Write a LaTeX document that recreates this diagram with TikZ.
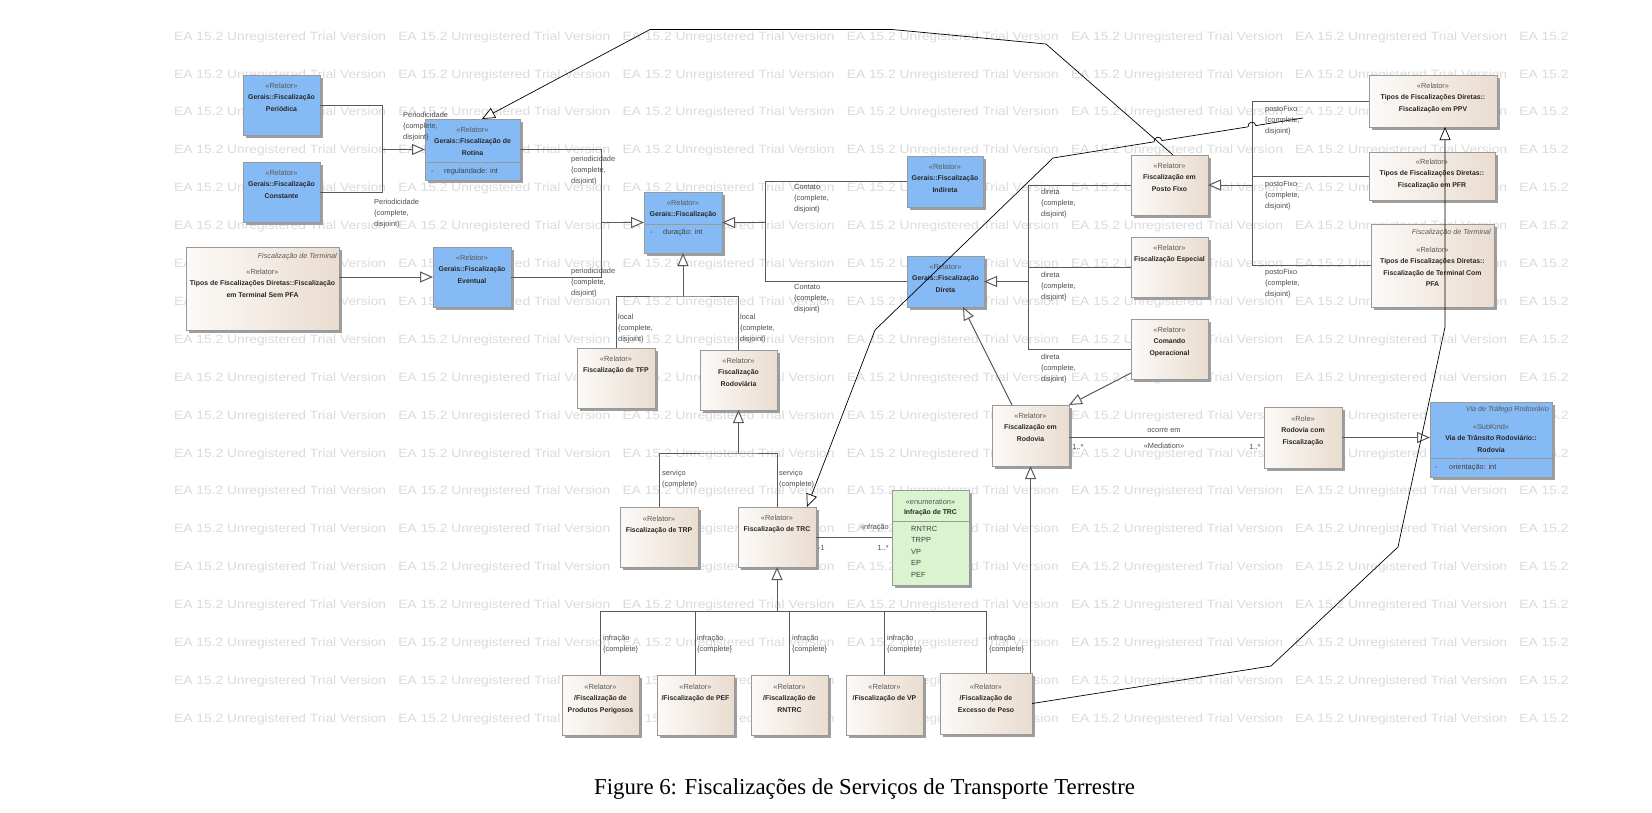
\documentclass[tikz,border=0pt]{standalone}
\usepackage{fontspec}
\setmainfont{Liberation Sans}
\newfontfamily\serifcap{Liberation Serif}
\newfontfamily\wmfont[FakeStretch=1.15]{Liberation Sans}
\usetikzlibrary{arrows.meta,calc,shadows}
\definecolor{rl}{HTML}{FCFAF8}
\definecolor{rr}{HTML}{EADCD0}
\definecolor{bl}{HTML}{85BAF5}
\definecolor{gr}{HTML}{D9F4CF}
\newcommand\stf{\fontsize{7.4}{11.3}\selectfont}
\newcommand\nmf{\fontsize{6.9}{11.3}\selectfont\bfseries}
\newcommand\nm[1]{{\nmf\color{black!85}#1}}
\newcommand\lbf{\fontsize{7.4}{11}\selectfont}
\newcommand\itf{\fontsize{7.2}{9}\selectfont\itshape}
\tikzset{
 base box/.style={draw=black!40, line width=.6pt, inner sep=0pt, outer sep=0pt, anchor=north west,
   drop shadow={shadow xshift=2.5pt, shadow yshift=-2.5pt, fill=black!38, opacity=1}},
 rbox/.style={base box, left color=rl, right color=rr},
 bbox/.style={base box, fill=bl},
 gbox/.style={base box, fill=gr},
 btxt/.style={anchor=north, align=center, inner sep=0pt, font=\stf, text=black!65},
 ittxt/.style={anchor=east, inner sep=0pt, font=\itf, text=black!65},
 attr/.style={anchor=west, inner sep=0pt, font=\stf, text=black!75},
 lbl/.style={anchor=north west, align=left, inner sep=0pt, font=\lbf, text=black!70},
 slbl/.style={inner sep=0pt, font=\lbf, text=black!70},
 cline/.style={draw=black!40, line width=.6pt},
 tree/.style={draw=black!65, line width=1pt},
 gen/.style={tree, -{Triangle[length=13pt,width=11pt,fill=white]}},
 lng/.style={draw=black, line width=.7pt},
 lgen/.style={lng, -{Triangle[length=13pt,width=11pt,fill=white]}},
 wm/.style={anchor=west, inner sep=0pt, text=black!14, font=\wmfont\fontsize{12}{12}\selectfont}
}
\newcommand\bx[6]{\node[#1, minimum width=#4pt, minimum height=#5pt] (#6) at (#2,#3) {};}
\begin{document}
\begin{tikzpicture}[x=1pt,y=-1pt]
\fill[white] (0,0) rectangle (1652,812);
\useasboundingbox (0,0) rectangle (1652,812);
% watermark
\begin{scope}
\clip (170,0) rectangle (1570,740);
\foreach \k in {0,...,18}{\foreach \j in {0,...,6}{
 \node[wm] (wm-\k-\j) at ({174+224.2*\j},{37+37.9*\k}) {EA 15.2 Unregistered Trial Version};
}}
\end{scope}
% boxes
\bx{bbox}{243}{75}{77}{60}{per}
\bx{bbox}{243}{162}{77}{60}{con}
\bx{bbox}{425}{119}{95}{61}{rot}
\bx{rbox}{186}{247}{153}{83}{tsp}
\bx{bbox}{433}{247}{78}{60}{eve}
\bx{bbox}{644}{192}{78}{61}{fis}
\bx{bbox}{907}{156}{76}{51}{ind}
\bx{bbox}{907}{256}{77}{51}{dir}
\bx{rbox}{577}{348}{78}{60}{tfp}
\bx{rbox}{700}{350}{77}{60}{rodv}
\bx{rbox}{1131}{155}{77}{60}{pfx}
\bx{rbox}{1131}{237}{77}{60}{esp}
\bx{rbox}{1131}{319}{77}{60}{cmd}
\bx{rbox}{1369}{75}{128}{52}{ppv}
\bx{rbox}{1369}{152}{126}{48}{pfr}
\bx{rbox}{1371}{224}{123}{83}{tcp}
\bx{rbox}{992}{405}{77}{61}{rdv}
\bx{rbox}{1264}{407}{78}{61}{rcf}
\bx{bbox}{1430}{402}{122}{75}{via}
\bx{rbox}{620}{507}{78}{60}{trp}
\bx{rbox}{738}{507}{78}{60}{trc}
\bx{gbox}{892}{490}{77}{95}{enu}
\bx{rbox}{562}{675}{77}{60}{pp}
\bx{rbox}{657}{675}{77}{60}{pef}
\bx{rbox}{751}{675}{77}{60}{rnt}
\bx{rbox}{846}{675}{77}{60}{vp}
\bx{rbox}{940}{673}{92}{61}{exc}
% compartments
\draw[cline] (rot.west |- 0,162) -- (rot.east |- 0,162);
\draw[cline] (fis.west |- 0,224) -- (fis.east |- 0,224);
\draw[cline] (via.west |- 0,458) -- (via.east |- 0,458);
\draw[cline] (enu.west |- 0,521) -- (enu.east |- 0,521);
% box texts
\node[btxt] (per-t) at ($(per.north)+(0,8)$) {«Relator»\\\nm{Gerais::Fiscalização}\\\nm{Periódica}};
\node[btxt] (con-t) at ($(con.north)+(0,8)$) {«Relator»\\\nm{Gerais::Fiscalização}\\\nm{Constante}};
\node[btxt] (rot-t) at ($(rot.north)+(0,8)$) {«Relator»\\\nm{Gerais::Fiscalização de}\\\nm{Rotina}};
\node[attr] (rot-a1) at (431,172) {-};
\node[attr] (rot-a2) at (444,172) {regularidade: int};
\node[ittxt] (tsp-i) at (337,257) {Fiscalização de Terminal};
\node[btxt] (tsp-t) at ($(tsp.north)+(0,22)$) {«Relator»\\\nm{Tipos de Fiscalizações Diretas::Fiscalização}\\\nm{em Terminal Sem PFA}};
\node[btxt] (eve-t) at ($(eve.north)+(0,8)$) {«Relator»\\\nm{Gerais::Fiscalização}\\\nm{Eventual}};
\node[btxt] (fis-t) at ($(fis.north)+(0,8)$) {«Relator»\\\nm{Gerais::Fiscalização}};
\node[attr] (fis-a1) at (650,233) {-};
\node[attr] (fis-a2) at (663,233) {duração: int};
\node[btxt] (ind-t) at ($(ind.north)+(0,8)$) {«Relator»\\\nm{Gerais::Fiscalização}\\\nm{Indireta}};
\node[btxt] (dir-t) at ($(dir.north)+(0,8)$) {«Relator»\\\nm{Gerais::Fiscalização}\\\nm{Direta}};
\node[btxt] (tfp-t) at ($(tfp.north)+(0,8)$) {«Relator»\\\nm{Fiscalização de TFP}};
\node[btxt] (rodv-t) at ($(rodv.north)+(0,8)$) {«Relator»\\\nm{Fiscalização}\\\nm{Rodoviária}};
\node[btxt] (pfx-t) at ($(pfx.north)+(0,8)$) {«Relator»\\\nm{Fiscalização em}\\\nm{Posto Fixo}};
\node[btxt] (esp-t) at ($(esp.north)+(0,8)$) {«Relator»\\\nm{Fiscalização Especial}};
\node[btxt] (cmd-t) at ($(cmd.north)+(0,8)$) {«Relator»\\\nm{Comando}\\\nm{Operacional}};
\node[btxt] (ppv-t) at ($(ppv.north)+(0,8)$) {«Relator»\\\nm{Tipos de Fiscalizações Diretas::}\\\nm{Fiscalização em PPV}};
\node[btxt] (pfr-t) at ($(pfr.north)+(0,7)$) {«Relator»\\\nm{Tipos de Fiscalizações Diretas::}\\\nm{Fiscalização em PFR}};
\node[ittxt] (tcp-i) at (1491,233) {Fiscalização de Terminal};
\node[btxt] (tcp-t) at ($(tcp.north)+(0,23)$) {«Relator»\\\nm{Tipos de Fiscalizações Diretas::}\\\nm{Fiscalização de Terminal Com}\\\nm{PFA}};
\node[btxt] (rdv-t) at ($(rdv.north)+(0,8)$) {«Relator»\\\nm{Fiscalização em}\\\nm{Rodovia}};
\node[btxt] (rcf-t) at ($(rcf.north)+(0,9)$) {«Role»\\\nm{Rodovia com}\\\nm{Fiscalização}};
\node[ittxt] (via-i) at (1549,410) {Via de Tráfego Rodoviário};
\node[btxt] (via-t) at ($(via.north)+(0,22)$) {«SubKind»\\\nm{Via de Trânsito Rodoviário::}\\\nm{Rodovia}};
\node[attr] (via-a1) at (1435,468) {-};
\node[attr] (via-a2) at (1449,468) {orientação: int};
\node[btxt] (trp-t) at ($(trp.north)+(0,9)$) {«Relator»\\\nm{Fiscalização de TRP}};
\node[btxt] (trc-t) at ($(trc.north)+(0,8)$) {«Relator»\\\nm{Fiscalização de TRC}};
\node[btxt, font=\fontsize{7.4}{10}\selectfont] (enu-t) at ($(enu.north)+(0,9)$) {«enumeration»\\\nm{Infração de TRC}};
\node[lbl, font=\fontsize{7.4}{11.5}\selectfont, text=black!75] (enu-l) at (911,526) {RNTRC\\TRPP\\VP\\EP\\PEF};
\node[btxt] (pp-t) at ($(pp.north)+(0,9)$) {«Relator»\\\nm{/Fiscalização de}\\\nm{Produtos Perigosos}};
\node[btxt] (pef-t) at ($(pef.north)+(0,9)$) {«Relator»\\\nm{/Fiscalização de PEF}};
\node[btxt] (rnt-t) at ($(rnt.north)+(0,9)$) {«Relator»\\\nm{/Fiscalização de}\\\nm{RNTRC}};
\node[btxt] (vp-t) at ($(vp.north)+(0,9)$) {«Relator»\\\nm{/Fiscalização de VP}};
\node[btxt] (exc-t) at ($(exc.north)+(0,11)$) {«Relator»\\\nm{/Fiscalização de}\\\nm{Excesso de Peso}};
% junction coordinates
\coordinate (j1) at (382,149.5);
\coordinate (j2) at (601,222.5);
\coordinate (j3) at (765,222.5);
\coordinate (j4) at (683,296);
\coordinate (j5) at (1028,281.5);
\coordinate (j6) at (1252,185);
\coordinate (j7) at (738.5,453);
\coordinate (j8) at (777,611);
\coordinate (ppvend) at (1303,118);
% generalization trees
\draw[tree] (per.east) -| (j1);
\draw[tree] (con.east) -| (j1);
\draw[gen] (j1) -- (rot.west);
\draw[tree] (rot.east) -| (j2);
\draw[tree] (eve.east) -| (j2);
\draw[gen] (j2) -- (fis.west);
\draw[gen] (tsp.east |- eve.west) -- (eve.west);
\draw[tree] (ind.west) -| (j3);
\draw[tree] (dir.west) -| (j3);
\draw[gen] (j3) -- (fis.east);
\draw[tree] (tfp.north) |- (j4) -| (rodv.north);
\draw[gen] (j4) -- (fis.south);
\draw[tree] (pfx.west) -| (j5);
\draw[tree] (esp.west) -| (j5);
\draw[tree] (cmd.west) -| (j5);
\draw[gen] (j5) -- (dir.east);
\draw[tree] (ppv.west) -| (j6);
\draw[tree] (pfr.west) -| (j6);
\draw[tree] (tcp.west) -| (j6);
\draw[gen] (j6) -- (pfx.east);
\draw[tree] (trp.north) |- (j7) -| (trc.north);
\draw[gen] (j7) -- (rodv.south);
\draw[tree] (pp.north) |- (exc.north |- j8) -- (exc.north);
\draw[tree] (pef.north) -- (pef.north |- j8);
\draw[tree] (rnt.north) -- (rnt.north |- j8);
\draw[tree] (vp.north) -- (vp.north |- j8);
\draw[gen] (j8) -- (trc.south);
\draw[gen] (rdv.south |- exc.north) -- (rdv.south);
\draw[gen] ($(rdv.north)+(-18.5,0)$) -- ($(dir.south)+(17.5,0)$);
\draw[gen] ($(cmd.south west)+(0,-6)$) -- (rdv.north east);
\draw[gen] (rcf.east) -- (rcf.east -| via.west);
% associations
\draw[tree] (rdv.east |- rcf.west) -- (rcf.west);
\draw[tree] (trc.east) -- (trc.east -| enu.west);
% long connectors
\draw[lgen] ($(pfx.north west)+(42,0)$) -- (1046,44) -- (892,29.5) -- (650,29.5) -- ($(rot.north west)+(57,0)$);
\draw[lgen] (ppvend) -- (1255.95,125.57) .. controls (1255.11,120.31) and (1247.21,121.57) .. (1248.05,126.83)
  -- (1161.95,140.57) .. controls (1161.11,135.31) and (1153.21,136.57) .. (1154.05,141.83)
  -- (1053,158) -- (875,330) -- ($(trc.north east)+(-9,0)$);
\draw[lgen] (exc.east) -- (1271,666) -- (1398,547) -- (1445,327) -- ($(ppv.south)+(12,0)$);
% generalization set labels
\node[lbl] (l1) at (403,111.5) {Periodicidade\\\{complete,\\disjoint\}};
\node[lbl] (l2) at (374,198.5) {Periodicidade\\\{complete,\\disjoint\}};
\node[lbl] (l3) at (571,155.5) {periodicidade\\\{complete,\\disjoint\}};
\node[lbl] (l4) at (571,267.5) {periodicidade\\\{complete,\\disjoint\}};
\node[lbl] (l5) at (794,184.5) {Contato\\\{complete,\\disjoint\}};
\node[lbl] (l6) at (794,284.5) {Contato\\\{complete,\\disjoint\}};
\node[lbl] (l7) at (618,313.5) {local\\\{complete,\\disjoint\}};
\node[lbl] (l8) at (740,313.5) {local\\\{complete,\\disjoint\}};
\node[lbl] (l9) at (1041,188.5) {direta\\\{complete,\\disjoint\}};
\node[lbl] (l10) at (1041,271.5) {direta\\\{complete,\\disjoint\}};
\node[lbl] (l11) at (1041,353.5) {direta\\\{complete,\\disjoint\}};
\node[lbl] (l12) at (1265,105.5) {postoFixo\\\{complete,\\disjoint\}};
\node[lbl] (l13) at (1265,180.5) {postoFixo\\\{complete,\\disjoint\}};
\node[lbl] (l14) at (1265,268.5) {postoFixo\\\{complete,\\disjoint\}};
\node[lbl] (l15) at (662,469.5) {serviço\\(complete)};
\node[lbl] (l16) at (779,469.5) {serviço\\(complete)};
\node[lbl] (l17) at (603,634.5) {infração\\\{complete\}};
\node[lbl] (l18) at (697,634.5) {infração\\\{complete\}};
\node[lbl] (l19) at (792,634.5) {infração\\\{complete\}};
\node[lbl] (l20) at (887,634.5) {infração\\\{complete\}};
\node[lbl] (l21) at (989,634.5) {infração\\\{complete\}};
% association labels
\node[slbl] (a1) at (1164,431) {ocorre em};
\node[slbl] (a2) at (1164,446) {«Mediation»};
\node[slbl] (a3) at (1078,447) {1..*};
\node[slbl] (a4) at (1255,447) {1..*};
\node[slbl, anchor=east] (a5) at (889,528) {-infração};
\node[slbl, anchor=west] (a6) at (818,548) {-1};
\node[slbl, anchor=east] (a7) at (889,548) {1..*};
% caption
\node[anchor=base, inner sep=0pt, font=\serifcap\fontsize{22.8}{26}\selectfont] (cap) at (864.5,794) {Figure 6: Fiscalizações de Serviços de Transporte Terrestre};
\end{tikzpicture}
\end{document}
